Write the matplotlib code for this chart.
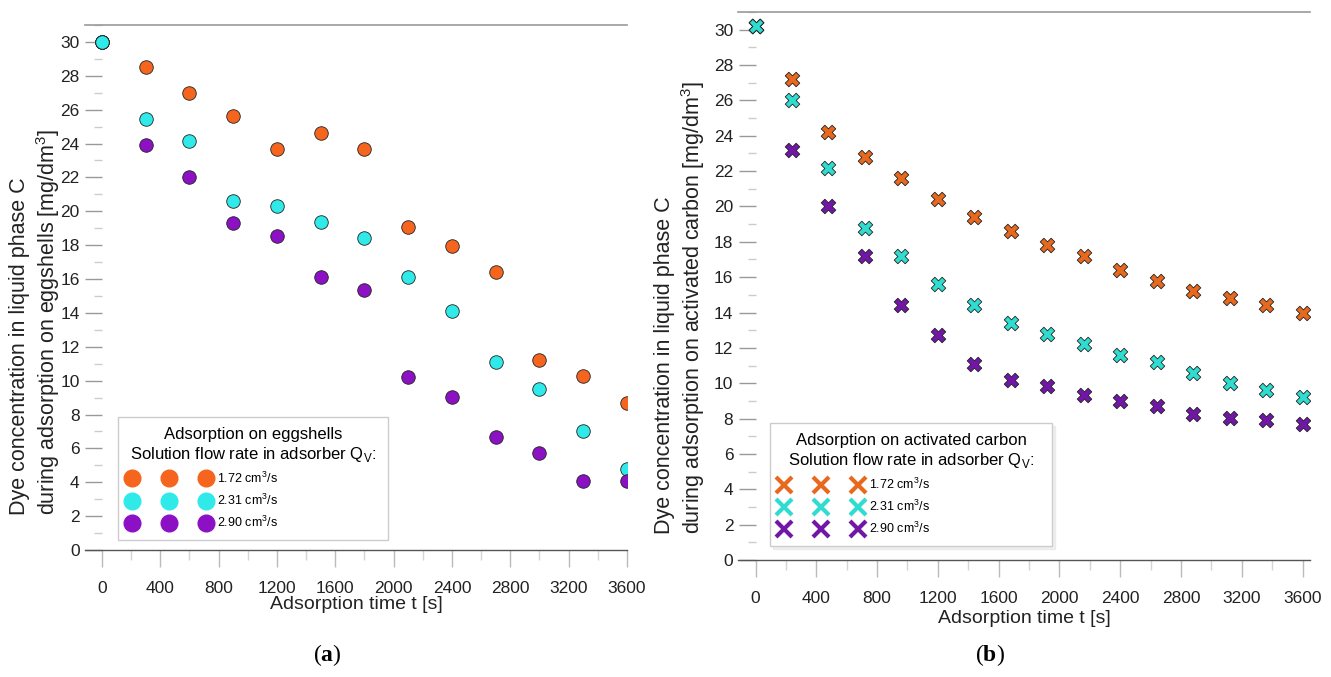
import numpy as np
import matplotlib
matplotlib.use("Agg")
import matplotlib.pyplot as plt
from matplotlib.lines import Line2D
from matplotlib.ticker import MultipleLocator

plt.rcParams['font.family'] = ['Liberation Sans', 'DejaVu Sans']
plt.rcParams['mathtext.fontset'] = 'custom'
plt.rcParams['mathtext.rm'] = 'Liberation Sans'
plt.rcParams['mathtext.bf'] = 'Liberation Serif:bold'

# (a) eggshells - sampling every 300 s
t_egg = [0, 300, 600, 900, 1200, 1500, 1800, 2100, 2400, 2700, 3000, 3300, 3600]
egg_172 = [30.0, 28.5, 27.0, 25.65, 23.7, 24.6, 23.7, 19.05, 17.95, 16.4, 11.2, 10.25, 8.65]
egg_231 = [30.0, 25.45, 24.15, 20.6, 20.3, 19.35, 18.4, 16.1, 14.1, 11.1, 9.5, 7.05, 4.8]
egg_290 = [30.0, 23.9, 22.0, 19.3, 18.55, 16.1, 15.35, 10.2, 9.05, 6.7, 5.75, 4.05, 4.05]

# (b) activated carbon - sampling every 240 s
t_ac = [0, 240, 480, 720, 960, 1200, 1440, 1680, 1920, 2160, 2400, 2640, 2880, 3120, 3360, 3600]
ac_172 = [30.2, 27.2, 24.2, 22.8, 21.6, 20.4, 19.4, 18.6, 17.8, 17.2, 16.4, 15.8, 15.2, 14.8, 14.4, 14.0]
ac_231 = [30.2, 26.0, 22.2, 18.8, 17.2, 15.6, 14.4, 13.4, 12.8, 12.2, 11.6, 11.2, 10.6, 10.0, 9.6, 9.2]
ac_290 = [30.2, 23.2, 20.0, 17.2, 14.4, 12.7, 11.1, 10.2, 9.85, 9.35, 9.0, 8.7, 8.25, 8.05, 7.9, 7.7]

flow_labels = ["1.72 cm$^3$/s", "2.31 cm$^3$/s", "2.90 cm$^3$/s"]
egg_colors = ["#F5651E", "#30EAEA", "#8C10C4"]
ac_colors = ["#E8691E", "#2FDCD0", "#7216A8"]

fig = plt.figure(figsize=(13.31, 6.77), dpi=100)
ax1 = fig.add_axes([0.0639, 0.1876, 0.4072, 0.7755])
ax2 = fig.add_axes([0.5545, 0.1728, 0.4298, 0.8095])


def style_axis(ax, xmax, xpad):
    ax.set_xlim(-115, xmax)
    ax.set_ylim(0, 31)
    ax.spines['right'].set_visible(False)
    ax.spines['left'].set_position(('data', 0))
    ax.spines['left'].set_color('none')
    ax.spines['top'].set_color('#999999')
    ax.spines['top'].set_linewidth(1.2)
    ax.spines['bottom'].set_color('#555555')
    ax.spines['bottom'].set_linewidth(1.0)
    ax.xaxis.set_major_locator(MultipleLocator(400))
    ax.xaxis.set_minor_locator(MultipleLocator(200))
    ax.set_yticks(np.arange(0, 31, 2))
    ax.yaxis.set_minor_locator(MultipleLocator(1))
    ax.tick_params(axis='y', which='major', direction='out', length=12, width=1,
                   color='#999999', labelsize=12.5, labelcolor='#222222', pad=4)
    ax.tick_params(axis='y', which='minor', direction='out', length=6, width=1, color='#cccccc')
    ax.tick_params(axis='x', which='major', direction='out', length=12, width=1,
                   color='#bbbbbb', labelsize=12.5, labelcolor='#222222', pad=10)
    ax.tick_params(axis='x', which='minor', direction='out', length=7, width=1, color='#d5d5d5')
    ax.set_xlabel("Adsorption time t [s]", fontsize=14, color='#222222', labelpad=xpad)


style_axis(ax1, 3600, 0)
style_axis(ax2, 3650, 3)

# panel (a): circles
for vals, col in zip([egg_172, egg_231, egg_290], egg_colors):
    ax1.scatter(t_egg, vals, s=95, c=col, edgecolors='#222222', linewidths=0.6, zorder=3)
# cyan point on top at t = 0
ax1.scatter(t_egg[:1], egg_231[:1], s=95, c=egg_colors[1], edgecolors='#222222', linewidths=0.6, zorder=4)

ax1.set_ylabel("Dye concentration in liquid phase C\nduring adsorption on eggshells [mg/dm$^3$]",
               fontsize=15.5, color='#222222', multialignment='left')
ax1.yaxis.set_label_coords(-0.043, 0.435)

# panel (b): crosses
for vals, col in zip([ac_172, ac_231, ac_290], ac_colors):
    ax2.scatter(t_ac, vals, s=110, marker='X', c=col, edgecolors='#222222', linewidths=0.6, zorder=3)
ax2.scatter(t_ac[:1], ac_231[:1], s=110, marker='X', c=ac_colors[1], edgecolors='#222222',
            linewidths=0.6, zorder=4)

ax2.set_ylabel("Dye concentration in liquid phase C\nduring adsorption on activated carbon [mg/dm$^3$]",
               fontsize=15.5, color='#222222', multialignment='left')
ax2.yaxis.set_label_coords(-0.054, 0.46)

# legends
h1 = [Line2D([], [], ls='', marker='o', ms=12, mfc=c, mec=c) for c in egg_colors]
leg1 = ax1.legend(h1, flow_labels, numpoints=3, loc='lower left',
                  bbox_to_anchor=(0.061, 0.019, 0.498, 0.232), mode='expand', borderaxespad=0,
                  title="Adsorption on eggshells\nSolution flow rate in adsorber Q$_\\mathrm{V}$:",
                  title_fontsize=12, fontsize=9, handlelength=6.5, handletextpad=0.6,
                  labelspacing=0.55, fancybox=False, edgecolor='#cccccc', framealpha=1,
                  borderpad=0.8, alignment='center')
leg1.get_frame().set_linewidth(1.0)
leg1.get_title().set_multialignment('center')

h2 = [Line2D([], [], ls='', marker='x', ms=11, mew=3, mec=c) for c in ac_colors]
leg2 = ax2.legend(h2, flow_labels, numpoints=3, loc='lower left',
                  bbox_to_anchor=(0.056, 0.0255, 0.493, 0.232), mode='expand', borderaxespad=0,
                  title="Adsorption on activated carbon\nSolution flow rate in adsorber Q$_\\mathrm{V}$:",
                  title_fontsize=12, fontsize=9, handlelength=6.5, handletextpad=0.6,
                  labelspacing=0.55, fancybox=False, edgecolor='#cccccc', framealpha=1,
                  borderpad=0.8, alignment='center', shadow={'color': '0.88'})
leg2.get_frame().set_linewidth(1.0)
leg2.get_title().set_multialignment('center')

# panel labels
fig.text(327 / 1331, 1 - 655 / 677, r"($\mathbf{a}$)", fontsize=17, ha='center', va='center',
         family='Liberation Serif')
fig.text(990 / 1331, 1 - 655 / 677, r"($\mathbf{b}$)", fontsize=17, ha='center', va='center',
         family='Liberation Serif')

fig.savefig("out.png", dpi=100)
